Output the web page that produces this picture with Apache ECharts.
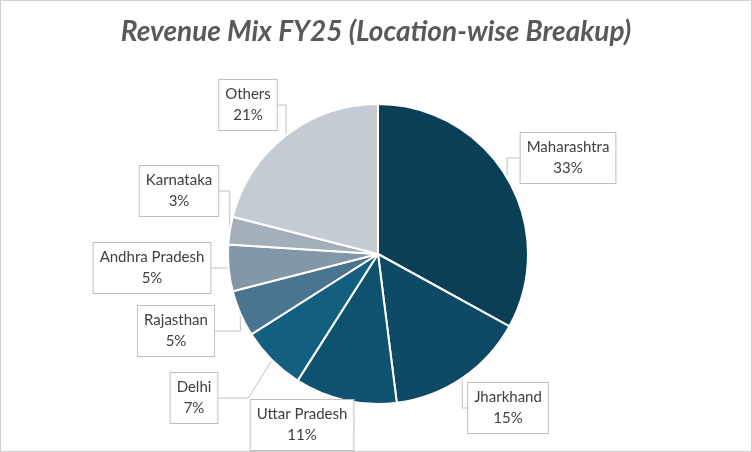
<!DOCTYPE html>
<html>
<head>
<meta charset="utf-8">
<script src="https://cdn.jsdelivr.net/npm/echarts@6/dist/echarts.min.js"></script>
<style>
  html, body { margin: 0; padding: 0; background: #fff; }
  #main { width: 750px; height: 450px; border: 1px solid #d0d0d0; }
</style>
</head>
<body>
<div id="main"></div>
<script>
var states = ['Maharashtra', 'Jharkhand', 'Uttar Pradesh', 'Delhi', 'Rajasthan', 'Andhra Pradesh', 'Karnataka', 'Others'];
var shares = [33, 15, 11, 7, 5, 5, 3, 21];
var colors = ['#0b3f55', '#0e4a66', '#0f5270', '#135f80', '#4a7590', '#8497a8', '#a3afbb', '#c5cbd2'];
// label box centres in px
var labelPos = [[567, 157], [507, 407], [301, 424], [193, 397], [175, 330], [151, 267], [178, 190], [247, 104]];

var myChart = echarts.init(document.getElementById('main'));

var option = {
  title: {
    text: 'Revenue Mix FY25 (Location-wise Breakup)',
    left: 'center',
    top: 12,
    textStyle: { fontFamily: 'Lato', fontStyle: 'italic', fontWeight: 'bold', fontSize: 28, color: '#595959' }
  },
  series: [{
    type: 'pie',
    center: [377, 253],
    radius: 150,
    startAngle: 90,
    clockwise: true,
    avoidLabelOverlap: false,
    itemStyle: { borderColor: '#fff', borderWidth: 2 },
    data: states.map(function (s, i) {
      return { name: s, value: shares[i], itemStyle: { color: colors[i] } };
    }),
    label: {
      formatter: '{b}\n{d}%',
      fontFamily: 'Lato',
      fontSize: 15,
      lineHeight: 21,
      color: '#404040',
      align: 'center',
      backgroundColor: '#fff',
      borderColor: '#bfbfbf',
      borderWidth: 1,
      padding: [4, 6]
    },
    labelLine: { show: true, lineStyle: { color: '#bfbfbf', width: 1 } },
    labelLayout: function (p) {
      var pos = labelPos[p.dataIndex];
      return { x: pos[0], y: pos[1], align: 'center', verticalAlign: 'middle' };
    },
    emphasis: { disabled: true }
  }]
};

myChart.setOption(option);
</script>
</body>
</html>
